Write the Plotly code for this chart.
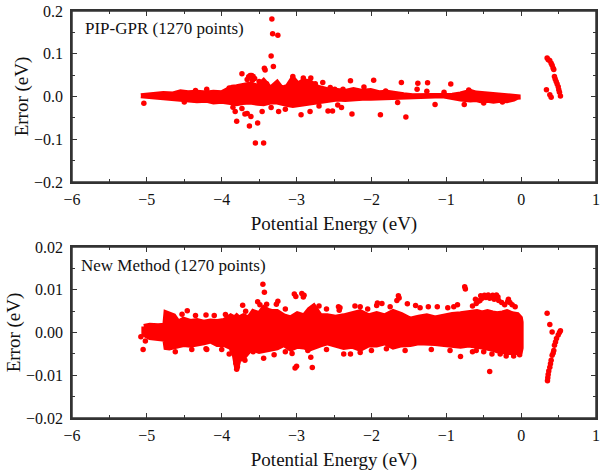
import plotly.graph_objects as go

# ---------------- Panel 1 : PIP-GPR ----------------
# dense band envelope (centres of the outermost markers)
b1_x = [-5.08, -5.00, -4.90, -4.78, -4.65, -4.55, -4.45, -4.33, -4.20, -4.11, -4.00, -3.93, -3.86,
        -3.80, -3.72, -3.62, -3.52, -3.44, -3.35, -3.26, -3.20, -3.12, -3.05, -2.98, -2.91, -2.82,
        -2.72, -2.64, -2.55, -2.46, -2.35, -2.24, -2.12, -2.01, -1.90, -1.79, -1.68, -1.57, -1.45,
        -1.35, -1.26, -1.15, -1.03, -0.92, -0.81, -0.68, -0.60, -0.54, -0.45, -0.37, -0.28, -0.19,
        -0.10, -0.05, -0.01]
b1_top = [0.002, 0.004, 0.005, 0.007, 0.006, 0.011, 0.009, 0.010, 0.008, 0.010, 0.009, 0.017, 0.022,
          0.023, 0.026, 0.029, 0.024, 0.037, 0.019, 0.033, 0.019, 0.024, 0.043, 0.029, 0.037, 0.034,
          0.022, 0.017, 0.014, 0.014, 0.012, 0.016, 0.012, 0.014, 0.009, 0.010, 0.006, 0.004, 0.002,
          0.002, 0.002, 0.001, 0.001, 0.003, 0.006, 0.012, 0.008, 0.007, 0.005, 0.004, 0.003, 0.002,
          0.001, 0.000, -0.001]
b1_bot = [0.000, 0.000, -0.001, -0.004, -0.005, -0.007, -0.008, -0.010, -0.009, -0.013, -0.011, -0.013, -0.015,
          -0.017, -0.014, -0.013, -0.016, -0.017, -0.013, -0.013, -0.016, -0.019, -0.021, -0.019, -0.017, -0.016,
          -0.012, -0.010, -0.008, -0.006, -0.007, -0.006, -0.004, -0.004, -0.003, -0.002, -0.002, -0.002, 0.000,
          0.001, 0.000, 0.001, 0.001, -0.002, -0.006, -0.008, -0.007, -0.010, -0.009, -0.011, -0.009, -0.010,
          -0.006, -0.002, -0.001]

# scattered points
p1_x = [-5.04, -4.20, -3.73, -3.66, -3.64, -3.62, -3.60, -3.58, -3.56, -3.59, -3.43, -3.42, -3.31,
        -3.34, -3.33, -3.32, -3.25, -3.82, -3.69, -3.80, -3.63, -3.52, -3.61, -3.66, -3.55, -3.44,
        -3.46, -3.24, -3.73, -3.34, -2.94, -2.82, -2.58, -2.52, -2.26, -1.88, -1.54, -2.91, -2.81,
        -2.65, -2.28, -1.97, -1.60, -1.38, -1.25, -0.94, -1.39, -1.26, -1.03, -1.81, -2.55, -2.49,
        -2.38, -1.65, -2.40, -1.15, -0.76, -3.05, -3.90, -3.85, -3.50, -3.40, -3.15, -2.75, -2.70,
        -2.45, -2.10, -4.50, -4.35, -0.70, -0.50, -0.25]
p1_y = [-0.016, 0.017, 0.053, 0.040, 0.046, 0.049, 0.049, 0.047, 0.042, 0.038, 0.066, 0.062, 0.070,
        0.095, 0.181, 0.147, 0.143, -0.035, -0.041, -0.058, -0.069, -0.062, -0.047, -0.040, -0.109, -0.109,
        -0.035, -0.035, -0.028, -0.026, -0.043, -0.035, -0.034, -0.034, -0.041, -0.043, -0.048, 0.043, 0.043,
        0.033, 0.037, 0.038, 0.033, 0.031, 0.032, 0.029, 0.017, 0.012, 0.010, 0.013, 0.021, 0.017,
        0.017, -0.014, -0.026, -0.019, -0.019, 0.047, 0.020, -0.025, 0.035, 0.030, -0.030, 0.030, -0.022,
        -0.020, 0.022, -0.013, 0.014, 0.015, -0.015, -0.013]

rc1_x = [0.347, 0.362, 0.382, 0.401, 0.414, 0.428, 0.436, 0.445, 0.455, 0.468, 0.481, 0.495, 0.503,
         0.512, 0.525, 0.338, 0.383, 0.401]
rc1_y = [0.090, 0.086, 0.084, 0.078, 0.073, 0.066, 0.063, 0.047, 0.041, 0.035, 0.029, 0.023, 0.016,
         0.010, 0.001, 0.016, 0.004, -0.002]

# ---------------- Panel 2 : New Method ----------------
b2_x = [-5.04, -4.96, -4.85, -4.76, -4.745, -4.70, -4.64, -4.58, -4.51, -4.42, -4.33, -4.24, -4.15,
        -4.06, -3.97, -3.88, -3.83, -3.80, -3.77, -3.71, -3.64, -3.58, -3.50, -3.44, -3.35, -3.26,
        -3.17, -3.08, -2.99, -2.90, -2.83, -2.77, -2.68, -2.59, -2.48, -2.37, -2.26, -2.15, -2.04,
        -1.93, -1.82, -1.71, -1.60, -1.48, -1.37, -1.26, -1.15, -1.03, -0.92, -0.81, -0.70, -0.59,
        -0.52, -0.45, -0.38, -0.32, -0.25, -0.19, -0.12, -0.05, -0.01, 0.00]
b2_top = [0.0014, 0.0017, 0.0016, 0.0017, 0.0046, 0.0044, 0.0039, 0.0024, 0.0031, 0.0026, 0.0028, 0.0024, 0.0027,
          0.0026, 0.0028, 0.0039, 0.0034, 0.0039, 0.0034, 0.0039, 0.0034, 0.0049, 0.0044, 0.0058, 0.0049, 0.0049,
          0.0039, 0.0034, 0.0044, 0.0039, 0.0054, 0.0062, 0.0039, 0.0039, 0.0036, 0.0039, 0.0044, 0.0049, 0.0039,
          0.0044, 0.0039, 0.0049, 0.0042, 0.0031, 0.0036, 0.0039, 0.0034, 0.0039, 0.0042, 0.0044, 0.0046, 0.0049,
          0.0046, 0.0049, 0.0046, 0.0044, 0.0046, 0.0049, 0.0044, 0.0042, 0.0034, 0.0024]
b2_bot = [-0.0004, -0.0012, -0.0014, -0.0016, -0.0035, -0.0036, -0.0035, -0.0032, -0.0028, -0.0030, -0.0028, -0.0024, -0.0020,
          -0.0028, -0.0028, -0.0035, -0.0054, -0.0084, -0.0064, -0.0059, -0.0044, -0.0039, -0.0044, -0.0043, -0.0039, -0.0036,
          -0.0028, -0.0039, -0.0032, -0.0034, -0.0039, -0.0035, -0.0029, -0.0024, -0.0029, -0.0035, -0.0032, -0.0039, -0.0029,
          -0.0029, -0.0024, -0.0034, -0.0029, -0.0028, -0.0024, -0.0024, -0.0026, -0.0028, -0.0029, -0.0032, -0.0029, -0.0032,
          -0.0034, -0.0035, -0.0039, -0.0043, -0.0044, -0.0047, -0.0047, -0.0047, -0.0045, -0.0036]

p2_x = [-3.45, -3.43, -3.03, -3.01, -2.93, -2.91, -2.90, -3.52, -3.49, -4.46, -4.21, -4.53, -5.08,
        -5.02, -5.05, -4.20, -3.80, -3.79, -3.81, -3.69, -3.44, -3.02, -3.00, -2.79, -3.06, -2.85,
        -2.81, -2.37, -2.28, -2.15, -0.754, -0.745, -0.54, -0.49, -0.44, -0.38, -0.33, -0.31, -0.61,
        -0.57, -0.17, -0.15, -2.42, -2.15, -1.93, -1.86, -1.64, -1.63, -1.66, -1.41, -1.24, -1.12,
        -0.81, -0.42, -0.50, -0.39, -0.28, -3.72, -3.68, -3.40, -3.35, -3.27, -3.25, -2.44, -2.43,
        -2.22, -1.92, -1.52, -3.58, -4.21, -0.65, -0.60, -0.55, -0.52, -0.47, -0.42, -0.36, -0.30,
        -0.26, -0.22, -0.18, -0.12, -0.08, -0.90, -0.85, -0.98, -1.35, -1.75, -2.05, -2.60, -2.70,
        -3.15, -3.95, -4.10, -4.35, -4.00, -4.40, -4.62, -3.90, -3.30, -3.15, -2.60, -2.00, -1.80,
        -1.55, -1.20, -0.95, -0.65, -0.60, -0.20, -0.10, -0.02]
p2_y = [0.0113, 0.0094, 0.0090, 0.0084, 0.0091, 0.0083, 0.0087, 0.0072, 0.0065, 0.0051, 0.0041, 0.0043, -0.0010,
        -0.0020, -0.0040, -0.0040, -0.0086, -0.0080, -0.0072, -0.0065, -0.0060, -0.0083, -0.0079, -0.0082, -0.0049, -0.0042,
        -0.0058, -0.0050, -0.0050, -0.0047, 0.0107, 0.0102, 0.0086, 0.0087, 0.0088, 0.0087, 0.0088, 0.0083, 0.0078,
        0.0073, 0.0078, 0.0070, 0.0058, 0.0060, 0.0063, 0.0068, 0.0086, 0.0081, 0.0075, 0.0063, 0.0060, 0.0060,
        -0.0056, -0.0091, -0.0045, -0.0050, -0.0050, 0.0064, 0.0050, 0.0066, 0.0050, 0.0066, 0.0073, 0.0060, 0.0052,
        0.0062, 0.0069, 0.0067, -0.0045, -0.0038, 0.0062, 0.0068, 0.0075, 0.0080, 0.0082, 0.0080, 0.0078, 0.0075,
        0.0070, 0.0065, 0.0072, 0.0065, 0.0060, 0.0060, 0.0065, 0.0058, 0.0058, 0.0060, 0.0055, 0.0055, 0.0062,
        0.0055, 0.0042, 0.0040, 0.0040, -0.0040, -0.0040, -0.0045, -0.0050, -0.0052, -0.0045, -0.0040, -0.0042, -0.0038,
        -0.0042, -0.0040, -0.0042, -0.0045, -0.0042, -0.0055, -0.0055, -0.0052]

rc2_x = [0.347, 0.383, 0.414, 0.525, 0.512, 0.495, 0.472, 0.459, 0.445, 0.436, 0.428, 0.414, 0.401,
         0.392, 0.383, 0.369, 0.361, 0.356, 0.352]
rc2_y = [0.0045, 0.0019, 0.0001, 0.0004, 0.0000, -0.0006, -0.0014, -0.0022, -0.0030, -0.0042, -0.0048, -0.0053, -0.0065,
         -0.0073, -0.0081, -0.0090, -0.0098, -0.0106, -0.0113]

RED = '#ff0000'
SERIF = 'Liberation Serif, Times New Roman, serif'
AXC = '#333333'


def band_polygon(xs, top, bot):
    px = list(xs) + list(reversed(xs)) + [xs[0]]
    py = list(top) + list(reversed(bot)) + [top[0]]
    return px, py


fig = go.Figure()
for xs, top, bot, pts_x, pts_y, ax, ay in [
    (b1_x, b1_top, b1_bot, p1_x + rc1_x, p1_y + rc1_y, 'x', 'y'),
    (b2_x, b2_top, b2_bot, p2_x + rc2_x, p2_y + rc2_y, 'x2', 'y2'),
]:
    qx, qy = band_polygon(xs, top, bot)
    fig.add_trace(go.Scatter(x=qx, y=qy, mode='lines', fill='toself', fillcolor=RED,
                             line=dict(color=RED, width=5), xaxis=ax, yaxis=ay,
                             showlegend=False, hoverinfo='skip'))
    fig.add_trace(go.Scatter(x=pts_x, y=pts_y, mode='markers',
                             marker=dict(color=RED, size=5.5, line=dict(width=0)),
                             xaxis=ax, yaxis=ay, showlegend=False))

tick_font = dict(family=SERIF, size=16, color='#111')
title_font = dict(family=SERIF, size=19, color='#111')


def xaxis_cfg(anchor):
    return dict(range=[-6, 1], dtick=1, tick0=0, ticks='inside', ticklen=5, tickwidth=1.2,
                tickcolor=AXC, minor=dict(dtick=0.5, tick0=0, ticks='inside', ticklen=3,
                                          tickwidth=1.2, tickcolor=AXC),
                showline=True, linecolor=AXC, linewidth=1.5, mirror='allticks',
                showgrid=False, zeroline=False, tickfont=tick_font, ticklabelstandoff=2,
                title=dict(text='Potential Energy (eV)', font=title_font, standoff=10),
                anchor=anchor, domain=[0, 1], automargin=False)


def yaxis_cfg(rng, dt, fmt, dom, anchor):
    return dict(range=rng, dtick=dt, tick0=0, tickformat=fmt, ticks='inside', ticklen=5,
                tickwidth=1.2, tickcolor=AXC,
                minor=dict(dtick=dt / 2, tick0=0, ticks='inside', ticklen=3, tickwidth=1.2,
                           tickcolor=AXC),
                showline=True, linecolor=AXC, linewidth=1.5, mirror='allticks',
                showgrid=False, zeroline=False, tickfont=tick_font, ticklabelstandoff=4,
                title=dict(text='Error (eV)', font=title_font, standoff=0),
                anchor=anchor, domain=dom, automargin=False)


fig.update_layout(
    width=603, height=472,
    margin=dict(l=72, r=7, t=11, b=54, autoexpand=False),
    paper_bgcolor='white', plot_bgcolor='white',
    xaxis=xaxis_cfg('y'),
    yaxis=yaxis_cfg([-0.2, 0.2], 0.1, '.1f', [0.5799, 1.0], 'x'),
    xaxis2=xaxis_cfg('y2'),
    yaxis2=yaxis_cfg([-0.02, 0.02], 0.01, '.2f', [0.0, 0.4201], 'x2'),
    shapes=[
        dict(type='rect', xref='x domain', yref='y domain', x0=0, x1=1, y0=0, y1=1,
             line=dict(color=AXC, width=1.5), fillcolor='rgba(0,0,0,0)', layer='above'),
        dict(type='rect', xref='x2 domain', yref='y2 domain', x0=0, x1=1, y0=0, y1=1,
             line=dict(color=AXC, width=1.5), fillcolor='rgba(0,0,0,0)', layer='above'),
    ],
    annotations=[
        dict(text='PIP-GPR (1270 points)', xref='x domain', yref='y domain', x=0.021, y=0.895,
             xanchor='left', yanchor='middle', showarrow=False, font=dict(family=SERIF, size=17, color='#111')),
        dict(text='New Method (1270 points)', xref='x2 domain', yref='y2 domain', x=0.014, y=0.893,
             xanchor='left', yanchor='middle', showarrow=False, font=dict(family=SERIF, size=17, color='#111')),
    ],
)

fig.write_html('out.html', config={'displayModeBar': False},
               post_script="document.body.style.margin='0px';document.body.style.padding='0px';")
